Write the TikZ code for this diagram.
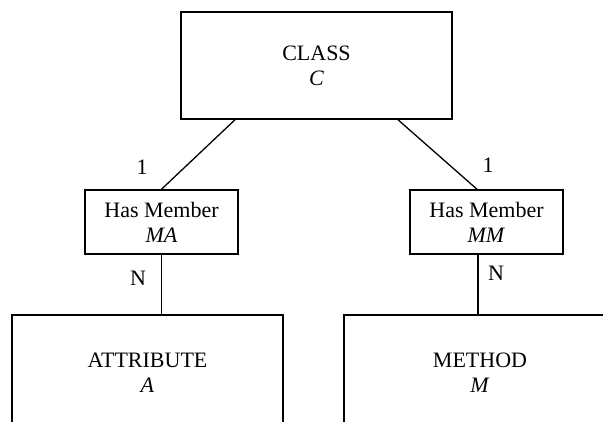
\documentclass[tikz,border=0pt]{standalone}
\usepackage{fontspec}
\setmainfont{Liberation Serif}
\begin{document}
\begin{tikzpicture}[x=1pt,y=-1pt,
  entity/.style={draw,line width=1.5pt,align=center,inner sep=0pt,
    font=\fontsize{22}{25}\selectfont},
  rel/.style={draw,line width=1.5pt,align=center,inner sep=0pt,
    minimum width=153pt,minimum height=64pt,
    font=\fontsize{22}{25}\selectfont},
  conn/.style={line width=1.3pt},
  card/.style={font=\fontsize{22}{25}\selectfont,inner sep=0pt}]
\useasboundingbox (0,0) rectangle (603,421);
\clip (0,0) rectangle (603,421);
% entities
\node[entity,minimum width=271pt,minimum height=107pt] (C) at (316.5,65.5) {CLASS\\\textit{C}};
\node[entity,minimum width=271pt,minimum height=116pt] (A) at (147.5,373) {ATTRIBUTE\\\textit{A}};
\node[entity,minimum width=272pt,minimum height=116pt] (M) at (480,373) {METHOD\\\textit{M}};
% relationships
\node[rel] (MA) at (161.5,222) {Has Member\\\textit{MA}};
\node[rel] (MM) at (486.5,222) {Has Member\\\textit{MM}};
% connectors
\draw[conn] ([xshift=-81.5pt]C.south) -- (MA.north);
\draw[conn] ([xshift=81.5pt]C.south) -- ([xshift=-9.5pt]MM.north);
\draw[conn] (MA.south) -- (MA.south |- A.north);
\draw[conn] ([xshift=-8.5pt]MM.south) coordinate (mmb) -- (mmb |- M.north);
% cardinalities
\node[card] (c1) at (142,167) {1};
\node[card] (c2) at (488,165) {1};
\node[card] (n1) at (138,278) {N};
\node[card] (n2) at (496,273) {N};
\end{tikzpicture}
\end{document}
